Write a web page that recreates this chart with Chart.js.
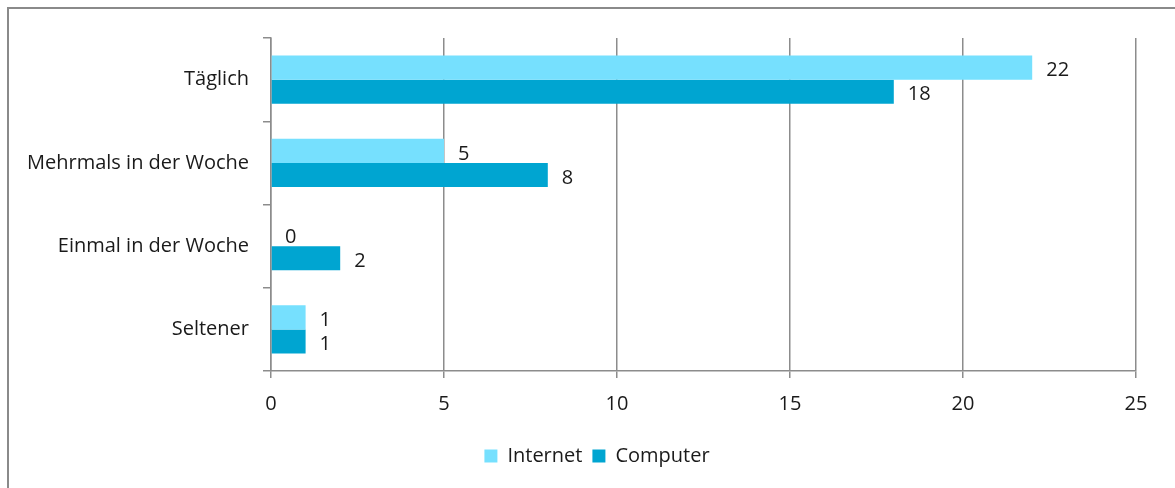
<!DOCTYPE html>
<html>
<head>
<meta charset="utf-8">
<script src="https://cdn.jsdelivr.net/npm/chart.js@4/dist/chart.umd.min.js"></script>
<style>
  html, body { margin: 0; padding: 0; background: #fff; }
  #wrap { width: 1175px; height: 488px; position: relative; }
</style>
</head>
<body>
<div id="wrap"><canvas id="myChart" width="1175" height="488"></canvas></div>
<script>
// categories and values
const categories = ['Täglich', 'Mehrmals in der Woche', 'Einmal in der Woche', 'Seltener']
const internetValues = [22, 5, 0, 1]
const computerValues = [18, 8, 2, 1]
const xTicks = [0, 5, 10, 15, 20, 25]

const FONT = '"Open Sans", "Noto Sans", sans-serif'
const SIZE = 20

// frame: only left and top edges show in the picture
const framePlugin = {
  id: 'frame',
  afterLayout(chart) {
    // legend sits a little right of the canvas centre
    chart.legend.left += 29
    chart.legend.right += 29
  },
  beforeDraw(chart) {
    const c = chart.ctx
    c.save()
    c.fillStyle = '#fff'
    c.fillRect(0, 0, chart.width, chart.height)
    c.strokeStyle = '#8a8a8a'
    c.lineWidth = 2
    c.beginPath()
    c.moveTo(8, chart.height)
    c.lineTo(8, 8)
    c.lineTo(chart.width, 8)
    c.stroke()
    c.restore()
  }
}

// value labels to the right of each bar
const labelPlugin = {
  id: 'barLabels',
  afterDatasetsDraw(chart) {
    const c = chart.ctx
    c.save()
    c.font = SIZE + 'px ' + FONT
    c.fillStyle = '#1a1a1a'
    c.textAlign = 'left'
    c.textBaseline = 'middle'
    chart.data.datasets.forEach((ds, i) => {
      chart.getDatasetMeta(i).data.forEach((bar, j) => {
        c.fillText(ds.data[j], bar.x + 14, bar.y + 3)
      })
    })
    c.restore()
  }
}

var ctx = document.getElementById('myChart').getContext('2d')
var chart = new Chart(ctx, {
  type: 'bar',
  data: {
    labels: categories,
    datasets: [
      { label: 'Internet', data: internetValues, backgroundColor: '#76e0fe' },
      { label: 'Computer', data: computerValues, backgroundColor: '#00a5d1' }
    ]
  },
  options: {
    indexAxis: 'y',
    responsive: false,
    animation: false,
    categoryPercentage: 0.58,
    barPercentage: 1,
    layout: { padding: { top: 38, right: 39, bottom: 12, left: 0 } },
    scales: {
      x: {
        min: 0, max: 25,
        afterBuildTicks: s => { s.ticks = xTicks.map(v => ({ value: v })) },
        afterFit: s => { s.height = 65 },
        grid: { color: '#8c8c8c', lineWidth: 1.5, tickLength: 7 },
        border: { color: '#8c8c8c', width: 1.5 },
        ticks: { color: '#1a1a1a', font: { family: FONT, size: SIZE }, padding: 14 }
      },
      y: {
        afterFit: s => { s.width = 271 },
        grid: { drawOnChartArea: false, color: '#8c8c8c', lineWidth: 1.5, tickLength: 8 },
        border: { color: '#8c8c8c', width: 1.5 },
        ticks: { color: '#1a1a1a', font: { family: FONT, size: SIZE }, padding: 14 }
      }
    },
    plugins: {
      legend: {
        position: 'bottom',
        labels: {
          color: '#1a1a1a',
          font: { family: FONT, size: SIZE },
          boxWidth: 13, boxHeight: 13, padding: 10
        }
      },
      tooltip: { enabled: false }
    }
  },
  plugins: [framePlugin, labelPlugin]
})
</script>
</body>
</html>
